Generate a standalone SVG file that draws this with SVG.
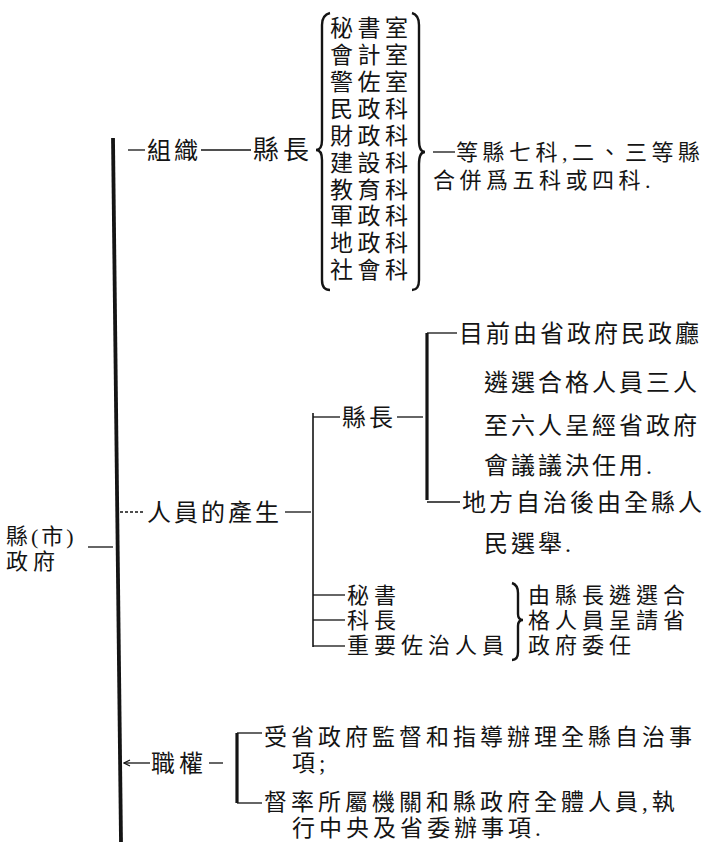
<svg xmlns="http://www.w3.org/2000/svg" width="707" height="847" viewBox="0 0 707 847">
<style>
.t{font-family:"Liberation Serif","Noto Sans CJK TC","Noto Sans CJK SC",serif;font-size:24px;fill:#141414;letter-spacing:3px}
.s{font-size:23px;letter-spacing:4.5px}
.m{font-size:22px;letter-spacing:5px}
.d{font-size:23px;letter-spacing:4px}
.ln{stroke:#141414;stroke-width:1.3;fill:none}
.th{stroke-width:3.2}
.md{stroke-width:1.6}
.br{stroke:#141414;stroke-width:2.4;fill:none}
</style>
<defs>
<marker id="ah" markerWidth="8" markerHeight="8" refX="1" refY="4" orient="auto" markerUnits="userSpaceOnUse">
<path d="M7,1 L1,4 L7,7" fill="none" stroke="#141414" stroke-width="1.2"/>
</marker>
</defs>
<rect width="707" height="847" fill="#fff"/>
<g id="connectors">
<line class="ln th" x1="113" y1="138" x2="121" y2="842" style="stroke-width:3.8"/>
<line class="ln" x1="88" y1="547" x2="113" y2="547"/>
<line class="ln" x1="128" y1="150" x2="145" y2="150"/>
<line class="ln" x1="201" y1="150" x2="251" y2="150"/>
<path class="br" d="M330,13 Q322,15 322,25 L322,140 Q322,150 316,150 Q322,150 322,160 L322,280 Q322,290 330,290"/>
<path class="br" d="M412,13 Q419,15 419,25 L419,140 Q419,152 425,152 Q419,152 419,164 L419,280 Q419,290 412,290"/>
<line class="ln" x1="433" y1="152" x2="455" y2="152"/>
<line class="ln" x1="120" y1="512" x2="145" y2="512" stroke-dasharray="3 2"/>
<line class="ln" x1="285" y1="512" x2="311" y2="512"/>
<line class="ln md" x1="313" y1="413" x2="313" y2="647"/>
<line class="ln" x1="313" y1="417" x2="340" y2="417"/>
<line class="ln" x1="397" y1="417" x2="423" y2="417"/>
<line class="ln th" x1="427" y1="333" x2="427" y2="500"/>
<line class="ln" x1="427" y1="333" x2="457" y2="333"/>
<line class="ln" x1="427" y1="502" x2="460" y2="502"/>
<line class="ln" x1="313" y1="595" x2="345" y2="595"/>
<line class="ln" x1="313" y1="620" x2="345" y2="620"/>
<line class="ln" x1="313" y1="646" x2="345" y2="646"/>
<path class="br" d="M512,583 Q518,585 518,593 L518,614 Q518,620 523,620 Q518,620 518,626 L518,652 Q518,660 512,660"/>
<line class="ln" x1="124" y1="763" x2="150" y2="763" marker-start="url(#ah)"/>
<line class="ln" x1="209" y1="763" x2="223" y2="763"/>
<line class="ln th" x1="237" y1="733" x2="237" y2="803"/>
<line class="ln" x1="237" y1="733" x2="262" y2="733"/>
<line class="ln" x1="237" y1="803" x2="262" y2="803"/>
</g>
<g id="root"><text class="t m"><tspan x="6" y="544" style="letter-spacing:3px">縣(市)</tspan><tspan x="6" y="569">政府</tspan></text></g>
<g id="zuzhi"><text class="t" x="147" y="159">組織</text></g>
<g id="xianzhang-top"><text class="t" x="253" y="159" style="font-size:26px;letter-spacing:4px">縣長</text></g>
<g id="offices">
<text class="t s"><tspan x="330" y="36">秘書室</tspan><tspan x="330" y="63">會計室</tspan><tspan x="330" y="90">警佐室</tspan><tspan x="330" y="117">民政科</tspan><tspan x="330" y="144">財政科</tspan><tspan x="330" y="171">建設科</tspan><tspan x="330" y="198">教育科</tspan><tspan x="330" y="224">軍政科</tspan><tspan x="330" y="251">地政科</tspan><tspan x="330" y="278">社會科</tspan></text>
</g>
<g id="note-top">
<text class="t m" style="letter-spacing:4.5px"><tspan x="456" y="160">等縣七科,二、三等縣</tspan><tspan x="433" y="188">合併爲五科或四科.</tspan></text>
</g>
<g id="renyuan"><text class="t" x="147" y="521">人員的產生</text></g>
<g id="xianzhang-mid"><text class="t" x="342" y="426">縣長</text></g>
<g id="now">
<text class="t"><tspan x="459" y="342">目前由省政府民政廳</tspan><tspan x="484" y="391">遴選合格人員三人</tspan><tspan x="484" y="434">至六人呈經省政府</tspan><tspan x="484" y="474">會議議決任用.</tspan></text>
</g>
<g id="future">
<text class="t"><tspan x="462" y="511">地方自治後由全縣人</tspan><tspan x="484" y="552">民選舉.</tspan></text>
</g>
<g id="staff">
<text class="t m"><tspan x="347" y="603">秘書</tspan><tspan x="347" y="628">科長</tspan><tspan x="347" y="653">重要佐治人員</tspan></text>
</g>
<g id="staff-note">
<text class="t m"><tspan x="528" y="603">由縣長遴選合</tspan><tspan x="528" y="628">格人員呈請省</tspan><tspan x="528" y="653">政府委任</tspan></text>
</g>
<g id="zhiquan"><text class="t" x="151" y="772" style="letter-spacing:4px">職權</text></g>
<g id="duty1">
<text class="t d"><tspan x="264" y="745">受省政府監督和指導辦理全縣自治事</tspan><tspan x="292" y="771">項;</tspan></text>
</g>
<g id="duty2">
<text class="t d"><tspan x="264" y="810">督率所屬機關和縣政府全體人員,執</tspan><tspan x="292" y="836">行中央及省委辦事項.</tspan></text>
</g>
</svg>
